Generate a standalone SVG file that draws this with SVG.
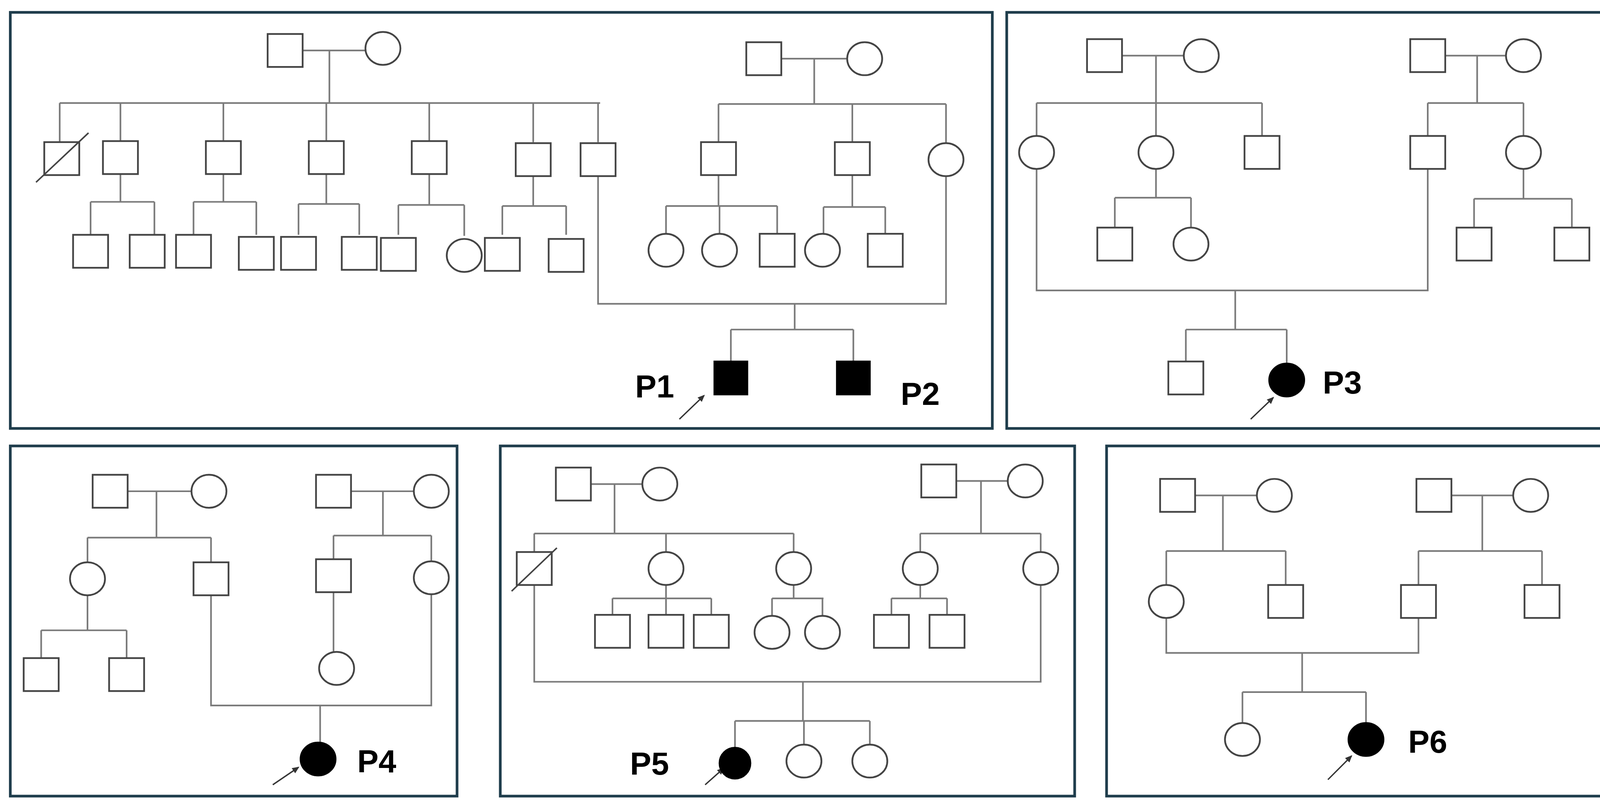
<svg xmlns="http://www.w3.org/2000/svg" width="4132" height="2070" viewBox="0 0 4132 2070">
<style>
.b{fill:none;stroke:#1f3d4c;stroke-width:2.6}
.l{fill:none;stroke:#7a7a7a;stroke-width:1.6}
.n{fill:#fff;stroke:#444;stroke-width:1.7}
.f{fill:#000;stroke:#000;stroke-width:1.7}
.t{font-family:"Liberation Sans",Arial,sans-serif;font-weight:bold;font-size:31px;fill:#000}
.a{stroke:#333;stroke-width:1.3;fill:none}
</style>
<defs>
<rect id="sq" x="-17" y="-16" width="34" height="32" class="n"/>
<ellipse id="ci" rx="17" ry="16" class="n"/>
<marker id="ar" markerWidth="8" markerHeight="8" refX="6" refY="4" orient="auto" markerUnits="userSpaceOnUse"><path d="M0,1 L7,4 L0,7 Z" fill="#333"/></marker>
</defs>
<rect width="4132" height="2070" fill="#fff"/>
<g transform="scale(2.6352)">
<g id="frames">
<rect class="b" x="10" y="12" width="954" height="404"/>
<rect class="b" x="978" y="12" width="579" height="404"/>
<rect class="b" x="10" y="433" width="434" height="340"/>
<rect class="b" x="486" y="433" width="558" height="340"/>
<rect class="b" x="1075" y="433" width="482" height="340"/>
</g>
<g id="connectors" class="l">
<!-- panel 1 -->
<path d="M277,49H372M320,49V100M58,100H583M58,100V138M117,100V138M217,100V138M317,100V138M417,100V138M518,100V138M581,100V138"/>
<path d="M117,169V196M88,196H150M88,196V228M150,196V228"/>
<path d="M217,169V196M188,196H249M188,196V228M249,196V228"/>
<path d="M317,169V198M290,198H349M290,198V228M349,198V228"/>
<path d="M417,169V199M387,199H451M387,199V228M451,199V229"/>
<path d="M518,169V200M488,200H550M488,200V228M550,200V228"/>
<path d="M742,57H840M791,57V101M698,101H919M698,101V138M828,101V138M919,101V139"/>
<path d="M698,170V200M647,200H755M647,200V227M699,200V227M755,200V227"/>
<path d="M828,170V201M800,201H860M800,201V227M860,201V227"/>
<path d="M581,170V295H919V171M772,295V320M710,320H829M710,320V351M829,320V351"/>
<!-- panel 3 -->
<path d="M1073,54H1167M1123,54V100M1007,100H1226M1007,100V132M1123,100V132M1226,100V132"/>
<path d="M1123,164V192M1083,192H1157M1083,192V221M1157,192V221"/>
<path d="M1387,54H1480M1435,54V100M1387,100H1480M1387,100V132M1480,100V132"/>
<path d="M1480,164V193M1432,193H1527M1432,193V221M1527,193V221"/>
<path d="M1007,164V282H1387V164M1200,282V320M1152,320H1250M1152,320V351M1250,320V353"/>
<!-- panel 4 -->
<path d="M107,477H203M152,477V522M85,522H205M85,522V546M205,522V546"/>
<path d="M85,578V612M40,612H123M40,612V639M123,612V639"/>
<path d="M324,477H419M372,477V520M324,520H419M324,520V543M419,520V545"/>
<path d="M324,575V633"/>
<path d="M205,578V685H419V577M311,685V721"/>
<!-- panel 5 -->
<path d="M557,470H641M597,470V518M519,518H771M519,518V536M647,518V536M771,518V536"/>
<path d="M647,568V581M595,581H691M595,581V597M647,581V597M691,581V597"/>
<path d="M771,568V581M750,581H800M750,581V598M799,581V598"/>
<path d="M912,467H996M953,467V518M894,518H1011M894,518V536M1011,518V536"/>
<path d="M894,568V581M866,581H920M866,581V597M920,581V597"/>
<path d="M519,568V662H1011V568M780,662V700M714,700H845M714,700V726M781,700V723M845,700V723"/>
<!-- panel 6 -->
<path d="M1144,481H1238M1188,481V535M1133,535H1249M1133,535V568M1249,535V568"/>
<path d="M1393,481H1487M1440,481V535M1378,535H1498M1378,535V568M1498,535V568"/>
<path d="M1133,600V634H1378V600M1265,634V672M1207,672H1327M1207,672V702M1327,672V702"/>
</g>
<g id="arrows">
<line class="a" x1="660" y1="407" x2="684" y2="384" marker-end="url(#ar)"/>
<line class="a" x1="1215" y1="407" x2="1237" y2="386" marker-end="url(#ar)"/>
<line class="a" x1="265" y1="762" x2="290" y2="745" marker-end="url(#ar)"/>
<line class="a" x1="685" y1="762" x2="703" y2="746" marker-end="url(#ar)"/>
<line class="a" x1="1290" y1="757" x2="1313" y2="734" marker-end="url(#ar)"/>
</g>
<!-- panel 1 nodes -->
<g id="p1-gf"><use href="#sq" x="277" y="49"/></g>
<g id="p1-gm"><use href="#ci" x="372" y="47"/></g>
<g id="p1-c1"><use href="#sq" x="60" y="154"/><line x1="35" y1="177" x2="86" y2="129" stroke="#444" stroke-width="1.5"/></g>
<g id="p1-c2"><use href="#sq" x="117" y="153"/></g>
<g id="p1-c3"><use href="#sq" x="217" y="153"/></g>
<g id="p1-c4"><use href="#sq" x="317" y="153"/></g>
<g id="p1-c5"><use href="#sq" x="417" y="153"/></g>
<g id="p1-c6"><use href="#sq" x="518" y="155"/></g>
<g id="p1-c7"><use href="#sq" x="581" y="155"/></g>
<g id="p1-g1"><use href="#sq" x="88" y="244"/></g>
<g id="p1-g2"><use href="#sq" x="143" y="244"/></g>
<g id="p1-g3"><use href="#sq" x="188" y="244"/></g>
<g id="p1-g4"><use href="#sq" x="249" y="246"/></g>
<g id="p1-g5"><use href="#sq" x="290" y="246"/></g>
<g id="p1-g6"><use href="#sq" x="349" y="246"/></g>
<g id="p1-g7"><use href="#sq" x="387" y="247"/></g>
<g id="p1-g8"><use href="#ci" x="451" y="248"/></g>
<g id="p1-g9"><use href="#sq" x="488" y="247"/></g>
<g id="p1-g10"><use href="#sq" x="550" y="248"/></g>
<g id="p1-rf"><use href="#sq" x="742" y="57"/></g>
<g id="p1-rm"><use href="#ci" x="840" y="57"/></g>
<g id="p1-r1"><use href="#sq" x="698" y="154"/></g>
<g id="p1-r2"><use href="#sq" x="828" y="154"/></g>
<g id="p1-r3"><use href="#ci" x="919" y="155"/></g>
<g id="p1-rg1"><use href="#ci" x="647" y="243"/></g>
<g id="p1-rg2"><use href="#ci" x="699" y="243"/></g>
<g id="p1-rg3"><use href="#sq" x="755" y="243"/></g>
<g id="p1-rg4"><use href="#ci" x="799" y="243"/></g>
<g id="p1-rg5"><use href="#sq" x="860" y="243"/></g>
<g id="P1"><rect x="694" y="351" width="32" height="32" class="f"/><text class="t" x="617" y="386">P1</text></g>
<g id="P2"><rect x="813" y="351" width="32" height="32" class="f"/><text class="t" x="875" y="393">P2</text></g>
<!-- panel 3 -->
<g id="p3-lf"><use href="#sq" x="1073" y="54"/></g>
<g id="p3-lm"><use href="#ci" x="1167" y="54"/></g>
<g id="p3-c1"><use href="#ci" x="1007" y="148"/></g>
<g id="p3-c2"><use href="#ci" x="1123" y="148"/></g>
<g id="p3-c3"><use href="#sq" x="1226" y="148"/></g>
<g id="p3-g1"><use href="#sq" x="1083" y="237"/></g>
<g id="p3-g2"><use href="#ci" x="1157" y="237"/></g>
<g id="p3-rf"><use href="#sq" x="1387" y="54"/></g>
<g id="p3-rm"><use href="#ci" x="1480" y="54"/></g>
<g id="p3-r1"><use href="#sq" x="1387" y="148"/></g>
<g id="p3-r2"><use href="#ci" x="1480" y="148"/></g>
<g id="p3-rg1"><use href="#sq" x="1432" y="237"/></g>
<g id="p3-rg2"><use href="#sq" x="1527" y="237"/></g>
<g id="p3-s1"><use href="#sq" x="1152" y="367"/></g>
<g id="P3"><ellipse cx="1250" cy="369" rx="17" ry="16" class="f"/><text class="t" x="1285" y="382">P3</text></g>
<!-- panel 4 -->
<g id="p4-lf"><use href="#sq" x="107" y="477"/></g>
<g id="p4-lm"><use href="#ci" x="203" y="477"/></g>
<g id="p4-c1"><use href="#ci" x="85" y="562"/></g>
<g id="p4-c2"><use href="#sq" x="205" y="562"/></g>
<g id="p4-g1"><use href="#sq" x="40" y="655"/></g>
<g id="p4-g2"><use href="#sq" x="123" y="655"/></g>
<g id="p4-rf"><use href="#sq" x="324" y="477"/></g>
<g id="p4-rm"><use href="#ci" x="419" y="477"/></g>
<g id="p4-r1"><use href="#sq" x="324" y="559"/></g>
<g id="p4-r2"><use href="#ci" x="419" y="561"/></g>
<g id="p4-rg1"><use href="#ci" x="327" y="649"/></g>
<g id="P4"><ellipse cx="309" cy="737" rx="17" ry="16" class="f"/><text class="t" x="347" y="750">P4</text></g>
<!-- panel 5 -->
<g id="p5-lf"><use href="#sq" x="557" y="470"/></g>
<g id="p5-lm"><use href="#ci" x="641" y="470"/></g>
<g id="p5-c1"><use href="#sq" x="519" y="552"/><line x1="497" y1="574" x2="541" y2="532" stroke="#444" stroke-width="1.5"/></g>
<g id="p5-c2"><use href="#ci" x="647" y="552"/></g>
<g id="p5-c3"><use href="#ci" x="771" y="552"/></g>
<g id="p5-g1"><use href="#sq" x="595" y="613"/></g>
<g id="p5-g2"><use href="#sq" x="647" y="613"/></g>
<g id="p5-g3"><use href="#sq" x="691" y="613"/></g>
<g id="p5-g4"><use href="#ci" x="750" y="614"/></g>
<g id="p5-g5"><use href="#ci" x="799" y="614"/></g>
<g id="p5-rf"><use href="#sq" x="912" y="467"/></g>
<g id="p5-rm"><use href="#ci" x="996" y="467"/></g>
<g id="p5-r1"><use href="#ci" x="894" y="552"/></g>
<g id="p5-r2"><use href="#ci" x="1011" y="552"/></g>
<g id="p5-rg1"><use href="#sq" x="866" y="613"/></g>
<g id="p5-rg2"><use href="#sq" x="920" y="613"/></g>
<g id="P5"><ellipse cx="714" cy="741" rx="15" ry="15" class="f"/><text class="t" x="612" y="752">P5</text></g>
<g id="p5-s2"><use href="#ci" x="781" y="739"/></g>
<g id="p5-s3"><use href="#ci" x="845" y="739"/></g>
<!-- panel 6 -->
<g id="p6-lf"><use href="#sq" x="1144" y="481"/></g>
<g id="p6-lm"><use href="#ci" x="1238" y="481"/></g>
<g id="p6-c1"><use href="#ci" x="1133" y="584"/></g>
<g id="p6-c2"><use href="#sq" x="1249" y="584"/></g>
<g id="p6-rf"><use href="#sq" x="1393" y="481"/></g>
<g id="p6-rm"><use href="#ci" x="1487" y="481"/></g>
<g id="p6-r1"><use href="#sq" x="1378" y="584"/></g>
<g id="p6-r2"><use href="#sq" x="1498" y="584"/></g>
<g id="p6-s1"><use href="#ci" x="1207" y="718"/></g>
<g id="P6"><ellipse cx="1327" cy="718" rx="17" ry="16" class="f"/><text class="t" x="1368" y="731">P6</text></g>
</g>
</svg>
